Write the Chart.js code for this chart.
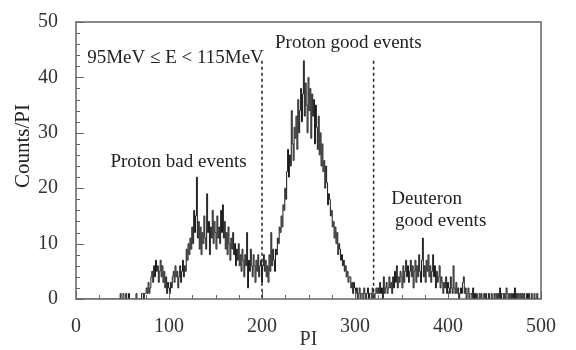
<!DOCTYPE html>
<html>
<head>
<meta charset="utf-8">
<script src="https://cdn.jsdelivr.net/npm/chart.js@4"></script>
<style>
  body { margin: 0; background: #fff; }
  canvas { display: block; }
</style>
</head>
<body>
<canvas id="piChart" width="576" height="350"></canvas>
<script>
// counts per PI bin, bins 0..499 (25 per row)
const counts = [
  0,0,0,0,0,0,0,0,0,0,0,0,0,0,0,0,0,0,0,0,0,0,0,0,0,
  0,0,0,0,0,0,0,0,0,0,0,0,0,0,0,0,0,0,0,0,0,0,0,1,0,
  0,1,0,0,1,0,0,1,0,0,0,0,0,0,0,1,0,0,0,0,0,1,1,0,1,
  1,2,1,3,1,2,4,5,3,6,4,7,5,6,3,5,7,4,6,3,5,2,4,1,3,
  2,1,3,2,4,5,3,6,4,5,2,4,6,3,5,7,4,6,5,9,7,10,8,11,9,
  13,10,16,12,15,22,11,14,9,13,8,12,10,15,11,9,19,12,14,8,13,11,16,10,14,
  12,9,15,11,13,10,16,12,17,11,14,9,12,8,13,10,7,11,9,12,8,10,6,9,7,
  10,6,8,5,9,7,4,8,6,12,2,7,5,9,6,4,8,6,3,7,5,8,4,6,7,
  3,6,8,5,7,4,6,3,8,5,12,6,9,7,5,9,8,11,10,13,12,15,13,17,16,
  20,18,23,27,22,26,24,34,28,25,31,29,33,27,36,30,34,38,32,37,43,33,39,35,30,
  40,34,38,29,37,33,36,28,35,31,27,33,26,30,24,28,23,25,20,24,21,17,19,18,15,
  16,13,14,11,13,10,12,8,10,9,7,8,6,7,5,6,4,5,3,4,4,2,3,1,3,
  2,1,2,0,1,2,0,1,1,0,2,1,0,1,2,0,1,1,0,2,1,0,1,2,1,
  2,1,3,1,2,0,4,1,2,3,1,2,4,2,3,1,4,2,5,3,6,2,4,3,5,
  4,2,6,3,5,7,4,6,3,5,7,4,6,2,5,7,3,6,4,8,5,3,7,11,4,
  6,3,7,5,8,4,6,3,5,8,4,6,2,5,3,4,6,2,4,3,1,3,2,4,1,
  3,2,1,4,2,1,6,2,1,3,1,2,0,1,2,1,3,4,1,2,0,1,2,0,1,
  1,0,2,0,1,0,1,0,0,1,0,1,0,0,1,0,1,0,0,1,0,0,1,0,0,
  1,0,1,0,1,0,2,0,1,1,0,1,0,2,1,0,1,0,1,0,1,0,2,0,1,
  0,1,0,1,0,1,0,1,0,0,1,0,1,0,0,1,0,0,1,0,0,1,0,0,0
];
const xTicks = [0, 100, 200, 300, 400, 500];
const yTicks = [0, 10, 20, 30, 40, 50];
const cutLines = [200, 320];
const notes = [
  { text: '95MeV \u2264 E < 115MeV', x: 12, y: 43.5 },
  { text: 'Proton good events', x: 214, y: 46.2 },
  { text: 'Proton bad events', x: 37, y: 24.8 },
  { text: 'Deuteron', x: 339, y: 18 },
  { text: 'good events', x: 343, y: 14 }
];

const serif = '"Liberation Serif", "Times New Roman", serif';
const points = counts.map((c, i) => ({ x: i, y: c }));

// frame, inward ticks, dashed cuts and labels
const decor = {
  id: 'decor',
  afterDatasetsDraw(chart) {
    const { ctx, chartArea: a, scales: { x, y } } = chart;
    ctx.save();
    ctx.strokeStyle = '#666';
    ctx.lineWidth = 1.5;
    ctx.strokeRect(a.left, a.top, a.right - a.left, a.bottom - a.top);

    ctx.lineWidth = 1;
    ctx.beginPath();
    for (let v = 0; v <= 500; v += 25) {
      const px = Math.round(x.getPixelForValue(v)) + 0.5;
      const len = v % 100 === 0 ? 8 : 4;
      ctx.moveTo(px, a.bottom); ctx.lineTo(px, a.bottom - len);
    }
    for (let v = 0; v <= 50; v += 2) {
      const py = Math.round(y.getPixelForValue(v)) + 0.5;
      const len = v % 10 === 0 ? 8 : 4;
      ctx.moveTo(a.left, py); ctx.lineTo(a.left + len, py);
    }
    ctx.stroke();

    ctx.strokeStyle = '#222';
    ctx.lineWidth = 1.5;
    ctx.setLineDash([3, 3]);
    cutLines.forEach(v => {
      const px = x.getPixelForValue(v);
      ctx.beginPath();
      ctx.moveTo(px, y.getPixelForValue(43));
      ctx.lineTo(px, a.bottom);
      ctx.stroke();
    });
    ctx.setLineDash([]);

    ctx.fillStyle = '#222';
    ctx.font = '19px ' + serif;
    ctx.textAlign = 'left';
    ctx.textBaseline = 'middle';
    notes.forEach(n => ctx.fillText(n.text, x.getPixelForValue(n.x), y.getPixelForValue(n.y)));

    ctx.font = '21px ' + serif;
    ctx.textAlign = 'center';
    ctx.translate(23, 146);
    ctx.rotate(-Math.PI / 2);
    ctx.fillText('Counts/PI', 0, 0);
    ctx.restore();
  }
};

new Chart(document.getElementById('piChart'), {
  type: 'line',
  data: {
    datasets: [{
      data: points,
      stepped: 'middle',
      borderColor: '#1a1a1a',
      borderWidth: 1,
      pointRadius: 0,
      fill: false
    }]
  },
  options: {
    responsive: false,
    animation: false,
    layout: { padding: { top: 14, right: 35, left: 0, bottom: 0 } },
    plugins: { legend: { display: false }, tooltip: { enabled: false } },
    scales: {
      x: {
        type: 'linear', min: 0, max: 500,
        afterBuildTicks: s => { s.ticks = xTicks.map(v => ({ value: v })); },
        ticks: { font: { family: serif, size: 20 }, color: '#333', padding: 8, maxRotation: 0 },
        grid: { display: false },
        border: { display: false },
        title: { display: true, text: 'PI', font: { family: serif, size: 20, lineHeight: 1 }, color: '#333', padding: 0 },
        afterFit: s => { s.height = 51; }
      },
      y: {
        min: 0, max: 50,
        afterBuildTicks: s => { s.ticks = yTicks.map(v => ({ value: v })); },
        ticks: { font: { family: serif, size: 20 }, color: '#333', padding: 10 },
        grid: { display: false },
        border: { display: false },
        afterFit: s => { s.width = 76; }
      }
    }
  },
  plugins: [decor]
});
</script>
</body>
</html>
